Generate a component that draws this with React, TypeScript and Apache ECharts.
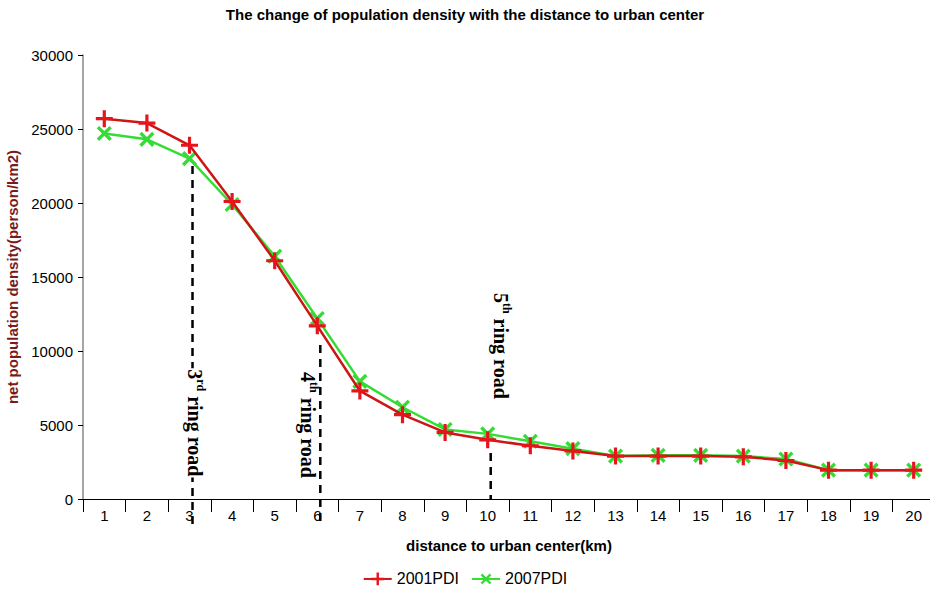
import React, { useEffect, useRef } from 'react';
import * as echarts from 'echarts';

const categories = ['1', '2', '3', '4', '5', '6', '7', '8', '9', '10', '11', '12', '13', '14', '15', '16', '17', '18', '19', '20'];
const pdi2001 = [25700, 25400, 23900, 20100, 16100, 11700, 7300, 5700, 4500, 4000, 3600, 3250, 2900, 2900, 2900, 2850, 2600, 1950, 1950, 1950];
const pdi2007 = [24700, 24300, 23000, 19900, 16400, 12200, 7950, 6200, 4700, 4400, 3900, 3400, 2900, 2950, 2950, 2900, 2700, 1950, 1950, 1950];
const seriesNames = ['2001PDI', '2007PDI'];
const yMin = 0;
const yMax = 30000;
const yInterval = 5000;

// ring road annotations: category index, ordinal, superscript
const ringCategory = [2, 5, 9];
const ringOrdinal = ['3', '4', '5'];
const ringSup = ['rd', 'th', 'th'];
const ringRest = ' ring road';
const ringLineTop = [22500, 10400, 3100];
const ringLineBottom = [-1800, -1800, 0];
const ringLabelValue = [5150, 5000, 10350];

const FONT = '"Liberation Sans", Arial, sans-serif';
const SERIF = '"Liberation Serif", "Times New Roman", serif';

const PLUS = 'path://M6.5,0h3v6.5h6.5v3h-6.5v6.5h-3v-6.5h-6.5v-3h6.5z';

const MAIN_SIZE = 20;
const SUP_SIZE = 12;

function measure(text: string, size: number): number {
  const c = document.createElement('canvas').getContext('2d');
  if (!c) return text.length * size * 0.5;
  c.font = `bold ${size}px ${SERIF}`;
  return c.measureText(text).width;
}

export default function App() {
  const ref = useRef<HTMLDivElement>(null);
  useEffect(() => {
    document.body.style.margin = '0';
    const chart = echarts.init(ref.current!, null, { renderer: 'svg' });
    chart.setOption({
      animation: false,
      backgroundColor: '#fff',
      title: {
        text: 'The change of population density with the distance to urban center',
        left: 'center',
        top: 2,
        textStyle: { fontFamily: FONT, fontSize: 15, fontWeight: 'bold', color: '#000' },
      },
      legend: {
        data: seriesNames,
        bottom: 0,
        left: 'center',
        itemWidth: 28,
        itemHeight: 16,
        itemGap: 12,
        textStyle: { fontFamily: FONT, fontSize: 16, color: '#000' },
      },
      grid: { left: 83, right: -5, top: 55, bottom: 94, containLabel: false, outerBoundsMode: 'none' },
      xAxis: {
        type: 'category',
        data: categories,
        boundaryGap: true,
        name: 'distance to urban center(km)',
        nameLocation: 'middle',
        nameGap: 39,
        nameTextStyle: { fontFamily: FONT, fontSize: 15, fontWeight: 'bold', color: '#000' },
        axisLine: { lineStyle: { color: '#000', width: 1 } },
        axisTick: { show: true, length: 13, lineStyle: { color: '#000' } },
        axisLabel: { fontFamily: FONT, fontSize: 15, color: '#000', margin: 9 },
        splitLine: { show: false },
      },
      yAxis: {
        type: 'value',
        min: yMin,
        max: yMax,
        interval: yInterval,
        name: 'net population density(person/km2)',
        nameLocation: 'middle',
        nameGap: 63,
        nameRotate: 90,
        nameTextStyle: { fontFamily: FONT, fontSize: 15, fontWeight: 'bold', color: '#7a1a1a' },
        axisLine: { show: true, lineStyle: { color: '#888', width: 1.5 } },
        axisTick: { show: true, length: 5, lineStyle: { color: '#000' } },
        axisLabel: { fontFamily: FONT, fontSize: 15, color: '#000', margin: 10, formatter: (v: number) => String(v) },
        splitLine: { show: false },
      },
      series: [
        {
          name: seriesNames[1],
          type: 'line',
          data: pdi2007,
          symbol: PLUS,
          symbolSize: 18,
          symbolRotate: 45,
          symbolKeepAspect: true,
          lineStyle: { color: '#33dd33', width: 2.5 },
          itemStyle: { color: '#33dd33' },
          z: 2,
        },
        {
          name: seriesNames[0],
          type: 'line',
          data: pdi2001,
          symbol: PLUS,
          symbolSize: 17,
          symbolKeepAspect: true,
          lineStyle: { color: '#cc1515', width: 2.5 },
          itemStyle: { color: '#e8141c' },
          z: 3,
        },
      ],
    });

    const px = (i: number, v: number) => chart.convertToPixel({ xAxisIndex: 0, yAxisIndex: 0 }, [i, v]) as number[];
    const lineDx = 3;
    const labelDx = [5, -9, 13];
    const graphics: any[] = [];
    ringCategory.forEach((ci, k) => {
      const top = px(ci, ringLineTop[k]);
      const bot = px(ci, ringLineBottom[k]);
      graphics.push({
        type: 'line',
        z: 50,
        shape: { x1: top[0] + lineDx, y1: top[1], x2: bot[0] + lineDx, y2: bot[1] },
        style: { stroke: '#000', lineWidth: 2.5, lineDash: [8, 6] },
      });
      const lp = px(ci, ringLabelValue[k]);
      const w1 = measure(ringOrdinal[k], MAIN_SIZE);
      const w2 = measure(ringSup[k], SUP_SIZE);
      const w3 = measure(ringRest, MAIN_SIZE);
      const total = w1 + w2 + w3;
      const x0 = -total / 2;
      const txt = (text: string, x: number, y: number, size: number) => ({
        type: 'text',
        z: 102,
        x,
        y,
        style: {
          text,
          fontFamily: SERIF,
          fontSize: size,
          fontWeight: 'bold',
          fill: '#000',
          align: 'left',
          verticalAlign: 'middle',
        },
      });
      const children: any[] = [];
      if (k === 0) {
        children.push({
          type: 'rect',
          z: 101,
          shape: { x: x0 - 1, y: -10, width: total + 2, height: 20 },
          style: { fill: '#fff' },
        });
      }
      children.push(txt(ringOrdinal[k], x0, 0, MAIN_SIZE));
      children.push(txt(ringSup[k], x0 + w1, -6, SUP_SIZE));
      children.push(txt(ringRest, x0 + w1 + w2, 0, MAIN_SIZE));
      graphics.push({
        type: 'group',
        z: 101,
        x: lp[0] + labelDx[k],
        y: lp[1],
        rotation: -Math.PI / 2,
        children,
      });
    });
    chart.setOption({ graphic: graphics });

    return () => chart.dispose();
  }, []);
  return <div ref={ref} style={{ width: 930, height: 593, position: 'absolute', left: 0, top: 0 }} />;
}
